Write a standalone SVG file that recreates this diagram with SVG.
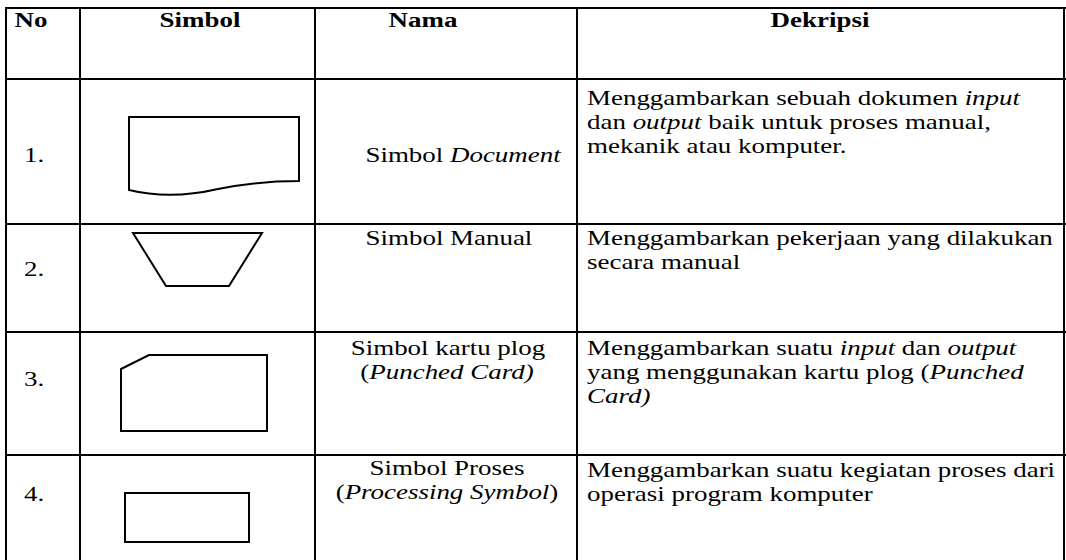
<svg xmlns="http://www.w3.org/2000/svg" width="1066" height="560" viewBox="0 0 1066 560">
<style>
  text { font-family: "Liberation Serif", "Times New Roman", serif; font-size: 22px; fill: #000; transform: scale(1.225, 1); }
  .h { font-weight: bold; text-anchor: middle; }
  .c { text-anchor: middle; }
  .i { font-style: italic; }
  .grid line { stroke: #000; stroke-width: 2; }
  .sym { fill: #fff; stroke: #000; stroke-width: 2; }
</style>
<rect width="1066" height="560" fill="#fff"/>
<g id="connectors" class="grid">
  <line x1="6" y1="7" x2="6" y2="560"/>
  <line x1="80" y1="7" x2="80" y2="560"/>
  <line x1="315" y1="7" x2="315" y2="560"/>
  <line x1="577" y1="7" x2="577" y2="560"/>
  <line x1="1064" y1="7" x2="1064" y2="560"/>
  <line x1="5" y1="8" x2="1066" y2="8"/>
  <line x1="5" y1="79" x2="1066" y2="79"/>
  <line x1="5" y1="224" x2="1066" y2="224"/>
  <line x1="5" y1="332" x2="1066" y2="332"/>
  <line x1="5" y1="455" x2="1066" y2="455"/>
</g>
<g id="header">
  <text class="h" x="25.3" y="27">No</text>
  <text class="h" x="163.3" y="27">Simbol</text>
  <text class="h" x="345.3" y="27">Nama</text>
  <text class="h" x="669.4" y="27">Dekripsi</text>
</g>
<g id="row1">
  <text x="19.6" y="162">1.</text>
  <path class="sym" d="M129,117 H299 V181 C265,181 243,184 218,189 C192,195 162,198 129,190 Z"/>
  <text class="c" x="378" y="162">Simbol <tspan class="i">Document</tspan></text>
  <text x="479.2" y="105">Menggambarkan sebuah dokumen <tspan class="i">input</tspan></text>
  <text x="479.2" y="129">dan <tspan class="i">output</tspan> baik untuk proses manual,</text>
  <text x="479.2" y="153">mekanik atau komputer.</text>
</g>
<g id="row2">
  <text x="19.6" y="276">2.</text>
  <path class="sym" d="M133,233 H262 L229,286 H166 Z"/>
  <text class="c" x="366.5" y="245">Simbol Manual</text>
  <text x="479.2" y="245">Menggambarkan pekerjaan yang dilakukan</text>
  <text x="479.2" y="269">secara manual</text>
</g>
<g id="row3">
  <text x="19.6" y="386">3.</text>
  <path class="sym" d="M121,369 L149,355 H267 V431 H121 Z"/>
  <text class="c" x="365.7" y="355">Simbol kartu plog</text>
  <text class="c" x="364.9" y="379">(<tspan class="i">Punched Card)</tspan></text>
  <text x="479.2" y="355">Menggambarkan suatu <tspan class="i">input</tspan>  dan <tspan class="i">output</tspan></text>
  <text x="479.2" y="379">yang menggunakan kartu plog (<tspan class="i">Punched</tspan></text>
  <text x="479.2" y="403" class="i">Card)</text>
</g>
<g id="row4">
  <text x="19.6" y="501">4.</text>
  <rect class="sym" x="125" y="493" width="124" height="49"/>
  <text class="c" x="364.9" y="475">Simbol Proses</text>
  <text class="c" x="364.9" y="499">(<tspan class="i">Processing Symbol</tspan>)</text>
  <text x="479.2" y="477">Menggambarkan suatu kegiatan proses dari</text>
  <text x="479.2" y="501">operasi program komputer</text>
</g>
</svg>
